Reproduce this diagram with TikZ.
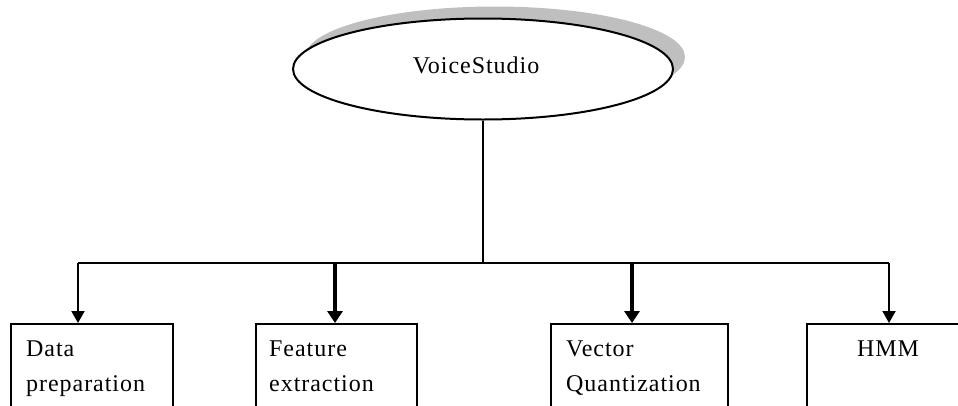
\documentclass[tikz,border=0pt]{standalone}
\usepackage{fontspec}
\setmainfont{Liberation Serif}[LetterSpace=4]
\usetikzlibrary{arrows.meta,shapes.geometric,shadows,calc}
\begin{document}
\begin{tikzpicture}[x=1pt,y=-1pt,
  box/.style={draw,line width=2pt,rectangle,inner sep=0pt,anchor=north west},
  txt/.style={inner sep=0pt,font=\fontsize{24}{28}\selectfont},
  thin/.style={line width=2pt,-{Triangle[width=13pt,length=12pt]}},
  thick/.style={line width=3.6pt,-{Triangle[width=15pt,length=12pt]}},
  bus/.style={line width=2pt}]
\useasboundingbox (0,0) rectangle (958,405);
% root ellipse with shadow
\node[ellipse,draw,line width=2pt,fill=white,minimum width=380pt,minimum height=101pt,
  drop shadow={shadow xshift=12pt,shadow yshift=12pt,fill=gray!50,opacity=1}] (vs) at (483,69) {};
\node[txt,anchor=base] (vst) at (476,73) {VoiceStudio};
% boxes
\node[box,minimum width=162pt,minimum height=84pt] (data) at (10,323) {};
\node[box,minimum width=161pt,minimum height=84pt] (feat) at (255,323) {};
\node[box,minimum width=177pt,minimum height=84pt] (vq) at (550,323) {};
\node[box,minimum width=166pt,minimum height=84pt] (hmm) at (806,323) {};
% texts
\node[txt,anchor=base west] (d1) at (26,356) {Data};
\node[txt,anchor=base west] (d2) at (26,391) {preparation};
\node[txt,anchor=base west] (f1) at (269,356) {Feature};
\node[txt,anchor=base west] (f2) at (269,391) {extraction};
\node[txt,anchor=base west] (v1) at (566,356) {Vector};
\node[txt,anchor=base west] (v2) at (566,391) {Quantization};
\node[txt,anchor=base] (h1) at (888,356) {HMM};
% connectors
\coordinate (j) at (483,263);
\coordinate (ta) at ($(data.north west)+(68,0)$);
\coordinate (tf) at ($(feat.north west)+(80,0)$);
\coordinate (tv) at ($(vq.north west)+(82,0)$);
\coordinate (th) at ($(hmm.north west)+(83,0)$);
\draw[bus] (vs.south) -- (j);
\draw[bus] (ta |- j) -- (th |- j);
\draw[thin] (ta |- j) -- (ta);
\draw[thick] (tf |- j) -- (tf);
\draw[thick] (tv |- j) -- (tv);
\draw[thin] (th |- j) -- (th);
\end{tikzpicture}
\end{document}
